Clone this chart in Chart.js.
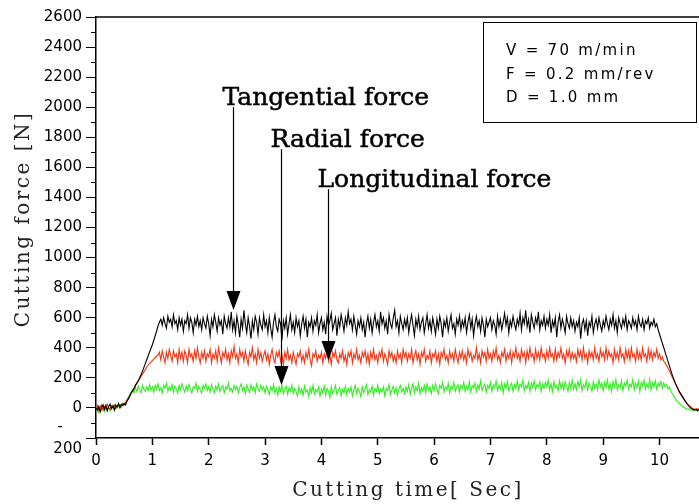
<!DOCTYPE html>
<html lang="en">
<head>
  <meta charset="UTF-8" />
  <title>Cutting force vs cutting time</title>
  <style>
    body {
      margin: 0;
      padding: 0;
      background: #fff;
    }
    #wrap {
      width: 699px;
      height: 504px;
    }
  </style>
  <script src="https://cdn.jsdelivr.net/npm/chart.js"></script>
</head>
<body>
  <div id="wrap">
    <canvas id="forceChart" width="699" height="504"></canvas>
  </div>

  <script>
    // sampling: one reading every 0.025 s starting at 0 s (20 readings per row = 0.5 s)
    const startTime = 0;
    const sampleStep = 0.025;

    // Tangential force [N]
    const tangential = [
      0, -15, 10, -25, 5, 20, -10, 15, -20, 10, 25, -5, 15, -15, 20, 5, 30, 0, 25, 15,
      30, 20, 45, 60, 80, 100, 115, 130, 150, 165, 180, 200, 220, 245, 270, 295, 320, 345, 370, 395,
      420, 450, 480, 510, 545, 570, 590, 550, 600, 560, 530, 610, 570, 590, 540, 620, 560, 580, 520, 600,
      550, 590, 510, 580, 560, 620, 530, 600, 570, 500, 590, 550, 610, 540, 580, 520, 600, 560, 530, 610,
      560, 480, 590, 540, 620, 570, 510, 600, 550, 580, 490, 610, 560, 530, 600, 540, 640, 520, 580, 500,
      610, 550, 470, 590, 530, 650, 560, 500, 600, 540, 460, 580, 520, 610, 570, 490, 600, 550, 520, 620,
      540, 580, 500, 600, 530, 470, 570, 620, 540, 510, 590, 560, 450, 580, 530, 600, 490, 560, 620, 520,
      570, 500, 600, 540, 580, 480, 560, 610, 530, 590, 470, 570, 540, 600, 510, 580, 550, 620, 500, 560,
      600, 520, 570, 490, 610, 550, 580, 630, 520, 560, 600, 480, 590, 540, 620, 570, 510, 600, 550, 640,
      560, 590, 520, 610, 550, 490, 580, 540, 600, 520, 570, 470, 560, 610, 530, 590, 500, 570, 620, 540,
      580, 510, 640, 560, 600, 530, 580, 490, 620, 560, 530, 600, 650, 540, 580, 500, 610, 560, 520, 590,
      540, 600, 500, 570, 620, 550, 480, 590, 540, 610, 520, 570, 600, 500, 560, 620, 530, 580, 510, 600,
      550, 490, 590, 530, 610, 560, 470, 580, 540, 600, 510, 570, 620, 530, 560, 490, 590, 550, 610, 520,
      580, 540, 600, 500, 570, 620, 530, 590, 480, 560, 610, 540, 580, 510, 600, 550, 470, 590, 540, 570,
      600, 520, 580, 550, 490, 610, 540, 590, 520, 570, 630, 550, 600, 500, 580, 540, 610, 560, 520, 590,
      550, 630, 520, 600, 560, 650, 540, 590, 500, 620, 570, 530, 600, 560, 640, 520, 580, 550, 610, 530,
      590, 550, 620, 500, 580, 540, 600, 470, 570, 620, 530, 590, 550, 500, 610, 560, 530, 600, 540, 580,
      510, 570, 540, 600, 460, 560, 590, 520, 580, 480, 570, 540, 610, 500, 560, 590, 530, 600, 550, 510,
      580, 540, 610, 560, 520, 590, 550, 620, 530, 580, 500, 600, 560, 530, 590, 550, 610, 520, 580, 560,
      530, 600, 550, 580, 520, 610, 560, 540, 590, 520, 580, 560, 600, 530, 570, 550, 590, 540, 560, 520,
      490, 460, 430, 400, 370, 340, 310, 280, 250, 220, 195, 170, 150, 130, 110, 95, 80, 65, 50, 35,
      20, 10, 0, -5, -10, -15, -10, -20, -10
    ];

    // Longitudinal force [N]
    const longitudinal = [
      -10, 15, -20, 5, 20, -15, 10, -5, 25, 0, -10, 15, 5, 20, -5, 10, 25, 5, 15, 30,
      20, 35, 50, 65, 80, 100, 115, 130, 150, 165, 180, 195, 210, 225, 240, 255, 270, 285, 295, 305,
      315, 325, 335, 345, 350, 370, 320, 380, 340, 300, 370, 330, 390, 350, 310, 380, 340, 360, 300, 390,
      330, 370, 310, 380, 350, 300, 390, 340, 360, 310, 380, 330, 400, 340, 300, 370, 330, 380, 310, 360,
      340, 390, 300, 360, 330, 380, 310, 400, 350, 300, 370, 340, 390, 320, 360, 300, 380, 340, 410, 330,
      360, 300, 390, 340, 370, 310, 380, 330, 290, 370, 340, 400, 320, 360, 300, 390, 330, 370, 310, 350,
      380, 320, 360, 290, 350, 390, 330, 300, 370, 340, 380, 310, 350, 290, 370, 330, 390, 320, 350, 300,
      370, 330, 290, 360, 340, 380, 310, 350, 300, 370, 330, 390, 320, 280, 360, 340, 380, 310, 350, 330,
      370, 300, 360, 330, 390, 310, 350, 290, 370, 340, 380, 320, 300, 360, 330, 380, 310, 350, 290, 370,
      340, 380, 300, 360, 330, 390, 320, 350, 300, 370, 340, 380, 310, 360, 290, 370, 330, 390, 320, 350,
      300, 370, 340, 390, 310, 360, 330, 290, 380, 340, 370, 310, 350, 300, 380, 330, 360, 300, 390, 340,
      370, 310, 360, 330, 390, 300, 350, 380, 320, 360, 290, 370, 340, 390, 310, 350, 330, 380, 300, 360,
      340, 380, 310, 360, 290, 370, 340, 390, 320, 350, 300, 380, 330, 360, 310, 390, 340, 300, 370, 330,
      380, 320, 360, 300, 390, 340, 370, 310, 350, 330, 400, 320, 360, 300, 380, 340, 370, 310, 390, 330,
      360, 310, 380, 340, 400, 320, 350, 300, 370, 340, 390, 310, 360, 330, 380, 300, 370, 340, 400, 330,
      360, 310, 390, 340, 370, 300, 380, 330, 400, 340, 360, 310, 390, 330, 370, 320, 400, 340, 360, 310,
      380, 330, 400, 340, 360, 310, 390, 320, 370, 340, 400, 330, 360, 300, 380, 340, 390, 320, 370, 330,
      360, 310, 390, 340, 380, 320, 400, 330, 360, 300, 380, 340, 370, 320, 400, 330, 360, 310, 390, 340,
      370, 320, 400, 330, 380, 340, 360, 300, 390, 330, 370, 320, 400, 340, 360, 310, 390, 330, 380, 320,
      400, 340, 360, 310, 390, 330, 370, 320, 400, 340, 360, 310, 390, 330, 380, 320, 370, 340, 390, 330,
      360, 320, 340, 310, 300, 280, 265, 245, 225, 205, 185, 165, 145, 125, 105, 90, 75, 60, 45, 35,
      25, 15, 10, 0, -5, -10, -5, -15, -5
    ];

    // Radial force [N]
    const radial = [
      -20, 5, -30, 10, -15, 0, -25, 15, -10, 5, -20, 10, 0, 20, -5, 15, 10, 25, 5, 30,
      20, 40, 55, 75, 90, 105, 120, 100, 135, 110, 145, 120, 100, 150, 125, 110, 140, 115, 155, 120,
      140, 105, 150, 125, 160, 115, 135, 100, 150, 130, 165, 110, 140, 120, 155, 105, 145, 125, 100, 150,
      120, 160, 130, 105, 145, 115, 155, 125, 100, 140, 130, 165, 110, 145, 120, 100, 150, 130, 160, 115,
      140, 105, 155, 125, 100, 145, 120, 160, 110, 135, 150, 100, 140, 125, 165, 115, 130, 105, 150, 120,
      145, 100, 135, 160, 115, 140, 95, 150, 125, 105, 155, 120, 140, 100, 160, 130, 110, 150, 120, 140,
      100, 145, 120, 90, 140, 115, 155, 100, 130, 85, 140, 110, 150, 95, 125, 145, 90, 135, 110, 150,
      95, 130, 110, 80, 140, 100, 125, 85, 145, 105, 120, 75, 135, 100, 150, 90, 120, 105, 140, 80,
      125, 100, 145, 85, 130, 110, 70, 140, 95, 120, 150, 90, 115, 135, 80, 125, 100, 145, 90, 130,
      105, 140, 80, 120, 150, 95, 130, 110, 75, 140, 100, 125, 155, 90, 120, 105, 145, 85, 130, 110,
      150, 95, 125, 105, 140, 80, 130, 115, 155, 90, 120, 145, 100, 135, 85, 125, 150, 105, 130, 95,
      140, 110, 155, 90, 130, 160, 100, 140, 115, 165, 95, 135, 110, 150, 100, 160, 120, 140, 95, 150,
      115, 160, 125, 95, 150, 130, 170, 105, 140, 120, 165, 100, 145, 125, 170, 110, 140, 155, 105, 150,
      130, 170, 110, 145, 120, 175, 105, 150, 135, 165, 110, 155, 125, 180, 115, 140, 160, 105, 150, 130,
      170, 110, 155, 135, 180, 115, 150, 125, 170, 100, 160, 130, 175, 115, 145, 165, 110, 155, 130, 180,
      120, 160, 140, 185, 115, 150, 130, 170, 110, 165, 135, 180, 120, 155, 140, 175, 110, 160, 130, 170,
      140, 185, 120, 160, 110, 175, 135, 150, 115, 180, 130, 165, 120, 175, 145, 110, 170, 130, 185, 125,
      160, 120, 175, 140, 190, 115, 155, 135, 180, 120, 165, 145, 110, 175, 130, 160, 120, 185, 140, 165,
      115, 170, 135, 185, 125, 160, 110, 175, 140, 190, 120, 155, 135, 180, 115, 165, 145, 185, 125, 160,
      140, 190, 120, 165, 135, 180, 110, 170, 145, 185, 125, 160, 135, 190, 120, 170, 140, 180, 125, 165,
      145, 175, 130, 165, 140, 155, 125, 140, 115, 95, 80, 65, 50, 40, 30, 20, 12, 5, 0, -5,
      -10, -5, -15, -10, -20, -10, -15, -5, -10
    ];

    const seriesNames = ['Tangential force', 'Longitudinal force', 'Radial force'];
    const seriesColors = ['#000000', '#ff3010', '#2ef01e'];

    // arrows: label text, time [s], arrow tip [N], label baseline [N]
    const arrowLabels = ['Tangential force', 'Radial force', 'Longitudinal force'];
    const arrowTimes = [2.43, 3.28, 4.11];
    const arrowTips = [651, 152, 318];
    const arrowTextValues = [2014, 1734, 1468];

    const conditions = ['V = 70 m/min', 'F = 0.2 mm/rev', 'D = 1.0 mm'];

    const xTitle = 'Cutting time[ Sec]';
    const yTitle = 'Cutting force [N]';

    function toPoints(values) {
      return values.map((v, i) => ({ x: startTime + i * sampleStep, y: v }));
    }

    const tickFont = { family: 'DejaVu Sans', size: 15, lineHeight: 1.5 };

    const extras = {
      id: 'extras',
      afterDraw(chart) {
        const ctx = chart.ctx;
        const area = chart.chartArea;
        const xs = chart.scales.x;
        const ys = chart.scales.y;
        ctx.save();

        // top frame line
        ctx.strokeStyle = '#000';
        ctx.lineWidth = 1.5;
        ctx.beginPath();
        ctx.moveTo(area.left, area.top);
        ctx.lineTo(area.right, area.top);
        ctx.stroke();

        // minor ticks on y
        ctx.lineWidth = 1;
        for (let v = -100; v < 2600; v += 200) {
          const py = Math.round(ys.getPixelForValue(v)) + 0.5;
          ctx.beginPath();
          ctx.moveTo(area.left - 5, py);
          ctx.lineTo(area.left, py);
          ctx.stroke();
        }

        // axis titles
        ctx.fillStyle = '#222';
        ctx.font = '20px "DejaVu Serif"';
        ctx.letterSpacing = '2.5px';
        ctx.textAlign = 'center';
        ctx.textBaseline = 'alphabetic';
        ctx.fillText(xTitle, 408, 496);
        ctx.save();
        ctx.translate(29, 219);
        ctx.rotate(-Math.PI / 2);
        ctx.fillText(yTitle, 0, 0);
        ctx.restore();
        ctx.letterSpacing = '0px';

        // arrow annotations
        ctx.fillStyle = '#000';
        ctx.strokeStyle = '#000';
        ctx.font = '25px "DejaVu Serif"';
        ctx.textAlign = 'left';
        for (let i = 0; i < arrowLabels.length; i++) {
          const ax = Math.round(xs.getPixelForValue(arrowTimes[i])) + 0.5;
          const tipY = ys.getPixelForValue(arrowTips[i]);
          const textY = ys.getPixelForValue(arrowTextValues[i]);
          ctx.fillText(arrowLabels[i], ax - 11, textY);
          ctx.lineWidth = 0.5;
          ctx.strokeText(arrowLabels[i], ax - 11, textY);
          ctx.lineWidth = 1.2;
          ctx.beginPath();
          ctx.moveTo(ax, textY + 2);
          ctx.lineTo(ax, tipY - 18);
          ctx.stroke();
          ctx.beginPath();
          ctx.moveTo(ax - 7, tipY - 19);
          ctx.lineTo(ax + 7, tipY - 19);
          ctx.lineTo(ax, tipY);
          ctx.closePath();
          ctx.fill();
        }

        // cutting conditions box
        ctx.lineWidth = 1;
        ctx.strokeRect(483.5, 22.5, 213, 100);
        ctx.font = '15px "DejaVu Sans"';
        ctx.letterSpacing = '2.3px';
        conditions.forEach((line, i) => {
          ctx.fillText(line, 506, 55 + i * 23.5);
        });
        ctx.restore();
      }
    };

    const chart = new Chart(document.getElementById('forceChart'), {
      type: 'line',
      data: {
        datasets: [
          { label: seriesNames[0], data: toPoints(tangential), borderColor: seriesColors[0] },
          { label: seriesNames[1], data: toPoints(longitudinal), borderColor: seriesColors[1] },
          { label: seriesNames[2], data: toPoints(radial), borderColor: seriesColors[2] }
        ]
      },
      options: {
        responsive: false,
        animation: false,
        devicePixelRatio: 1,
        layout: { padding: { top: 17, left: 0, right: 0, bottom: 0 } },
        elements: {
          point: { radius: 0 },
          line: { borderWidth: 1.1, tension: 0 }
        },
        plugins: {
          legend: { display: false },
          tooltip: { enabled: false }
        },
        scales: {
          x: {
            type: 'linear',
            min: 0,
            max: 10.7,
            afterFit: scale => { scale.height = 66; },
            ticks: {
              stepSize: 1,
              includeBounds: false,
              autoSkip: false,
              color: '#000',
              font: tickFont,
              padding: 5,
              maxRotation: 0
            },
            grid: {
              drawOnChartArea: false,
              drawTicks: true,
              tickLength: 7,
              tickColor: '#000',
              tickWidth: 1.5
            },
            border: { display: true, color: '#000', width: 1.5 }
          },
          y: {
            type: 'linear',
            min: -200,
            max: 2600,
            afterFit: scale => { scale.width = 96; },
            ticks: {
              stepSize: 200,
              includeBounds: false,
              autoSkip: false,
              color: '#000',
              font: tickFont,
              padding: 4,
              callback: v => (v === -200 ? ['-    ', '200'] : String(v))
            },
            grid: {
              drawOnChartArea: false,
              drawTicks: true,
              tickLength: 10,
              tickColor: '#000',
              tickWidth: 1
            },
            border: { display: true, color: '#000', width: 1.5 }
          }
        }
      },
      plugins: [extras]
    });
  </script>
</body>
</html>
